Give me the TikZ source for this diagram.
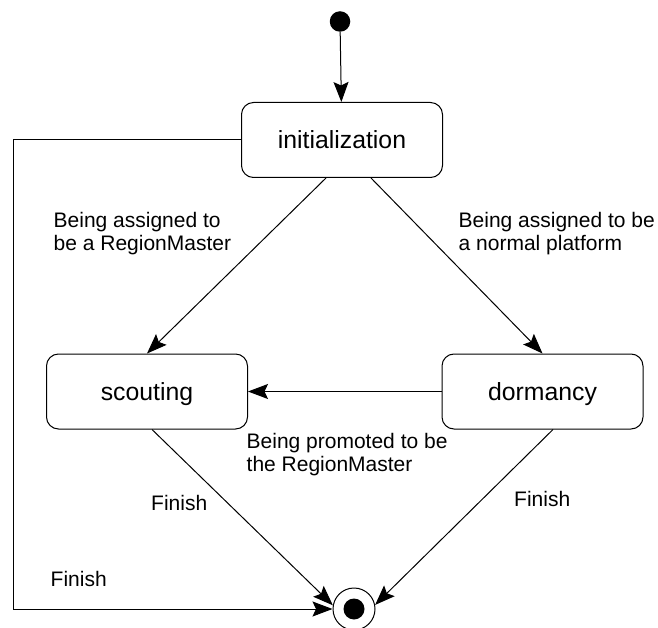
\documentclass[tikz,border=0pt]{standalone}
\usepackage{fontspec}
\setmainfont{Liberation Sans}
\usetikzlibrary{arrows.meta}
% two stacked lines whose baseline is the first line's
\newcommand{\twoline}[2]{\vtop{\hbox{#1}\hbox{#2}}}
\begin{document}
\begin{tikzpicture}[x=1pt,y=-1pt,
  state/.style={draw, line width=1pt, rounded corners=12pt,
    minimum width=201pt, minimum height=75pt, inner sep=0pt,
    text height=18pt, text depth=1pt,
    font=\fontsize{24.8}{28}\selectfont},
  trans/.style={draw, line width=1pt,
    -{Stealth[length=20pt,width=15pt,inset=3.5pt]}},
  lbl/.style={anchor=base west, inner sep=0pt,
    font=\fontsize{21}{23.4}\selectfont}]
\fill[white] (0,0) rectangle (658,628);
\useasboundingbox (0,0) rectangle (658,628);

% pseudo states
\node[circle, fill, minimum size=20.5pt, inner sep=0pt] (start) at (340,21.5) {};
\node[circle, draw, line width=1pt, minimum size=42pt, inner sep=0pt] (final) at (354,609) {};
\fill (final.center) circle (10.5pt);

% states
\node[state] (init)  at (342,140)     {initialization};
\node[state] (scout) at (147,391.5)   {scouting};
\node[state] (dorm)  at (542.5,391.5) {dormancy};

% transitions
\coordinate (bend) at (13,609);
\draw[trans] (start) -- (init);
\draw[trans] ([xshift=-16pt]init.south) -- (scout.north);
\draw[trans] ([xshift=29pt]init.south) -- (dorm.north);
\draw[trans] (dorm) -- (scout);
\draw[trans] ([xshift=5pt]scout.south) -- (final.170);
\draw[trans] ([xshift=10.5pt]dorm.south) -- (final.11);
\draw[trans] (init.west) -| (bend) -- (final.west);

% transition labels
\node[lbl] (lrm) at (53.5,227.3) {\twoline{Being assigned to}{be a RegionMaster}};
\node[lbl] (lnp) at (458.5,227.3) {\twoline{Being assigned to be}{a normal platform}};
\node[lbl] (lpr) at (246.5,448) {\twoline{Being promoted to be}{the RegionMaster}};
\node[lbl] (lf1) at (151,510.7) {Finish};
\node[lbl] (lf2) at (514,506) {Finish};
\node[lbl] (lf3) at (50.5,586.7) {Finish};
\end{tikzpicture}
\end{document}
